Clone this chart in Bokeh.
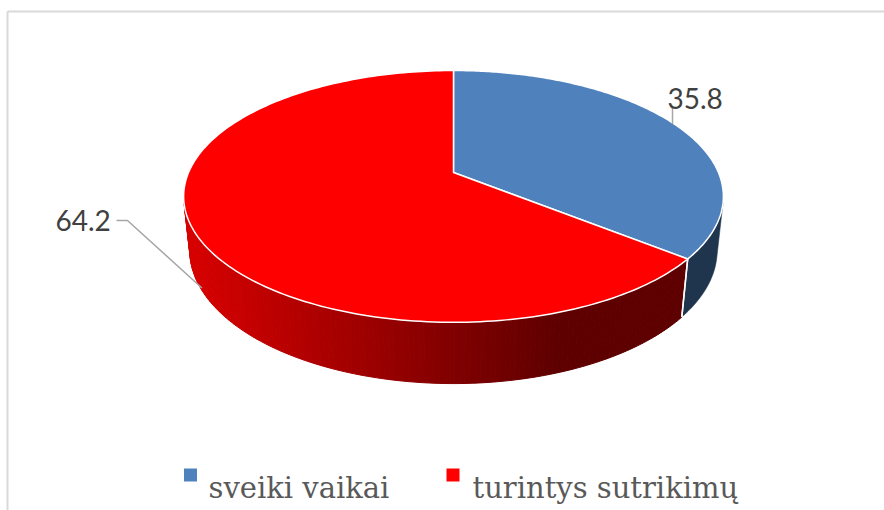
import numpy as np
from bokeh.plotting import figure
from bokeh.models import Range1d
from bokeh.core.properties import value
from bokeh.embed import file_html
from bokeh.resources import INLINE

# ---- data ----
categories = ["sveiki vaikai", "turintys sutrikimų"]
values = [35.8, 64.2]
top_colors = ["#4F81BD", "#FF0000"]
side_colors = ["#1F344D", None]  # None -> gradient red side
labels = ["35.8", "64.2"]

# ---- 3D projection (perspective) ----
D = 4.68
F = 1240.0
PHI = np.arcsin(0.458)
H = 0.231
CX, CY = 453.0, 172.0


def proj(theta_deg, hgt):
    t = np.radians(np.asarray(theta_deg, dtype=float))
    u = np.sin(t)
    w = np.cos(t)
    yc = w * np.sin(PHI) + hgt * np.cos(PHI)
    zc = D + w * np.cos(PHI) - hgt * np.sin(PHI)
    return CX + F * u / zc, CY - F * yc / zc


total = float(sum(values))
ends = np.cumsum(values) / total * 360.0
starts = np.concatenate([[0.0], ends[:-1]])

TS = np.degrees(np.arccos(-1.0 / (D * np.cos(PHI))))  # silhouette angle
vis_lo, vis_hi = TS, 360.0 - TS

W, HT = 884, 510
p = figure(width=W, height=HT, output_backend="svg", toolbar_location=None,
           x_range=Range1d(0, W), y_range=Range1d(HT, 0), min_border=0)
p.axis.visible = False
p.grid.visible = False
p.outline_line_color = None
p.background_fill_color = "white"
p.border_fill_color = "white"

# chart-area border (left and top)
p.line([7, 7], [11, HT], line_color="#D9D9D9", line_width=2)
p.line([7, W], [11, 11], line_color="#D9D9D9", line_width=2)


def red_grad(x):
    t = min(max((x - 190.0) / (560.0 - 190.0), 0.0), 1.0)
    r = int(round(214 - t * 120))
    return "#%02X0000" % r


# ---- sides ----
for s, e, sc in zip(starts, ends, side_colors):
    a, b = max(s, vis_lo), min(e, vis_hi)
    if a >= b:
        continue
    if sc is not None:
        th = np.linspace(a, b, 60)
        tx, ty = proj(th, 0.0)
        bx, by = proj(th[::-1], -H)
        p.patch(list(tx) + list(bx), list(ty) + list(by),
                fill_color=sc, line_color=sc, line_width=0.5)
    else:
        n = 140
        th = np.linspace(a, b, n + 1)
        xs, ys, cols = [], [], []
        for i in range(n):
            t2 = [th[i], th[i + 1]]
            tx, ty = proj(t2, 0.0)
            bx, by = proj(t2[::-1], -H)
            xs.append(list(tx) + list(bx))
            ys.append(list(ty) + list(by))
            cols.append(red_grad(float(np.mean(tx))))
        p.patches(xs, ys, fill_color=cols, line_color=cols, line_width=1)

# white divider lines on side at slice boundaries
for b in list(starts) + list(ends):
    if vis_lo < b < vis_hi:
        x0, y0 = proj(b, 0.0)
        x1, y1 = proj(b, -H)
        p.line([float(x0), float(x1)], [float(y0), float(y1)],
               line_color="white", line_width=1.5)

# ---- top surface ----
for s, e, c in zip(starts, ends, top_colors):
    th = np.linspace(s, e, 200)
    tx, ty = proj(th, 0.0)
    p.patch([CX] + list(tx), [CY] + list(ty), fill_color=c,
            line_color="white", line_width=1.5, line_join="round")

# ---- data labels with leader lines ----
mids = (starts + ends) / 2.0
lbl_pos = [(667, 98), (55, 220)]
ax0, ay0 = proj(mids[0], 0.0)
p.line([672, 672], [107, float(ay0)], line_color="#A6A6A6", line_width=1.5)
ax1, ay1 = proj(mids[1] - 2.0, -H * 0.95)
p.line([116, 127, float(ax1)], [220, 220, float(ay1)], line_color="#A6A6A6",
       line_width=1.5)
p.text(x=[q[0] for q in lbl_pos], y=[q[1] for q in lbl_pos], text=labels,
       text_font=value("Lato"), text_font_size="28px", text_color="#404040",
       text_baseline="alphabetic", text_align="left")

# ---- legend ----
leg_sq_x = [190, 452.5]
leg_txt_x = [208, 472]
p.scatter(x=leg_sq_x, y=[474.5, 474.5], marker="square", size=13,
          fill_color=top_colors, line_color=None)
p.text(x=leg_txt_x, y=[487, 487], text=categories,
       text_font=value("DejaVu Serif"), text_font_size="29px",
       text_color="#595959", text_baseline="alphabetic", text_align="left")

open("out.html", "w").write(file_html(p, INLINE))
